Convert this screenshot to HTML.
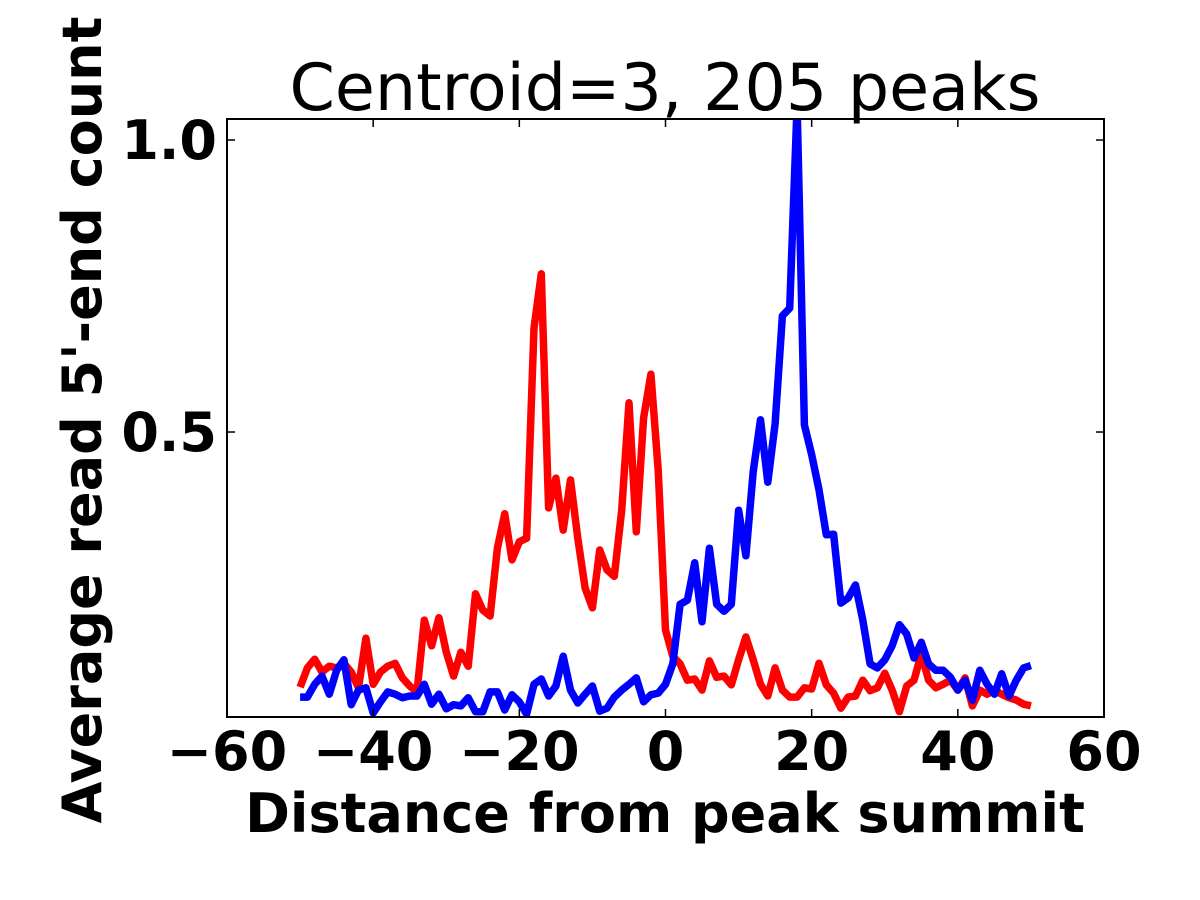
<!DOCTYPE html>
<html><head><meta charset="utf-8"><style>
html,body{margin:0;padding:0;background:#fff;}
svg{display:block;font-family:"DejaVu Sans","Liberation Sans",sans-serif;}
</style></head><body>
<svg id="chart" width="1200" height="900">
<defs><clipPath id="clip"><rect x="227" y="119" width="877" height="598"/></clipPath></defs>
<rect x="0" y="0" width="1200" height="900" fill="#fff"/>
<text x="665" y="110" text-anchor="middle" font-size="65">Centroid=3, 205 peaks</text>
<g id="series" clip-path="url(#clip)"></g>
<rect x="227" y="119" width="877" height="598" fill="none" stroke="#000" stroke-width="2"/>
<g id="ticks"></g>
<text x="665" y="832" text-anchor="middle" font-size="54" font-weight="bold">Distance from peak summit</text>
<text transform="translate(101,420) rotate(-90)" text-anchor="middle" font-size="54" font-weight="bold">Average read 5'-end count</text>
</svg>
<script>
const xTicks = [-60, -40, -20, 0, 20, 40, 60];
const xTickLabels = ["\u221260", "\u221240", "\u221220", "0", "20", "40", "60"];
const yTicks = [0.5, 1.0];
const yTickLabels = ["0.5", "1.0"];
const xStart = -50;
const redValues = [0.063,0.096,0.111,0.089,0.099,0.096,0.104,0.089,0.062,0.147,0.068,0.089,0.099,0.104,0.079,0.065,0.055,0.178,0.134,0.182,0.123,0.082,0.123,0.099,0.223,0.195,0.185,0.301,0.360,0.281,0.312,0.318,0.678,0.771,0.370,0.421,0.332,0.418,0.318,0.233,0.199,0.298,0.264,0.253,0.366,0.550,0.329,0.524,0.599,0.435,0.161,0.116,0.103,0.075,0.077,0.058,0.108,0.080,0.082,0.067,0.110,0.149,0.110,0.068,0.048,0.096,0.058,0.046,0.046,0.062,0.060,0.104,0.067,0.053,0.027,0.046,0.048,0.075,0.057,0.062,0.087,0.058,0.021,0.065,0.075,0.120,0.075,0.062,0.068,0.075,0.058,0.079,0.031,0.058,0.051,0.058,0.051,0.045,0.041,0.034,0.031];
const blueValues = [0.046,0.046,0.068,0.082,0.051,0.092,0.110,0.033,0.058,0.062,0.019,0.038,0.055,0.051,0.045,0.048,0.048,0.068,0.034,0.051,0.026,0.033,0.031,0.045,0.021,0.021,0.055,0.055,0.024,0.050,0.038,0.017,0.068,0.077,0.048,0.065,0.116,0.058,0.036,0.051,0.065,0.022,0.027,0.046,0.058,0.068,0.079,0.038,0.050,0.053,0.068,0.103,0.205,0.212,0.276,0.175,0.301,0.205,0.193,0.205,0.366,0.288,0.432,0.521,0.414,0.514,0.699,0.712,1.06,0.512,0.461,0.401,0.324,0.325,0.207,0.216,0.238,0.178,0.103,0.096,0.110,0.134,0.170,0.154,0.113,0.140,0.103,0.092,0.092,0.080,0.058,0.075,0.041,0.092,0.068,0.051,0.086,0.048,0.075,0.096,0.100];

const X0=227, X1=1104, Y0=119, Y1=717;
const xMin=-60, xMax=60, yMin=0.012, yMax=1.036;
const xs = v => X0 + (v - xMin) / (xMax - xMin) * (X1 - X0);
const ys = v => Y1 - (v - yMin) / (yMax - yMin) * (Y1 - Y0);
const NS = "http://www.w3.org/2000/svg";
const series = document.getElementById('series');
const ticks = document.getElementById('ticks');

function drawLine(vals, color, name) {
  const pts = vals.map((v, i) => xs(xStart + i).toFixed(1) + ',' + ys(v).toFixed(1)).join(' ');
  const pl = document.createElementNS(NS, 'polyline');
  pl.setAttribute('points', pts);
  pl.setAttribute('fill', 'none');
  pl.setAttribute('stroke', color);
  pl.setAttribute('stroke-width', '7.5');
  pl.setAttribute('stroke-linejoin', 'round');
  
  
  series.appendChild(pl);
}
drawLine(redValues, '#ff0000', 'red-series-line');
drawLine(blueValues, '#0000ff', 'blue-series-line');

xTicks.forEach((t, i) => {
  const x = xs(t);
  [[Y1, Y1 - 8], [Y0, Y0 + 8]].forEach(([a, b]) => {
    const l = document.createElementNS(NS, 'line');
    l.setAttribute('x1', x); l.setAttribute('x2', x);
    l.setAttribute('y1', a); l.setAttribute('y2', b);
    l.setAttribute('stroke', '#000'); l.setAttribute('stroke-width', '1.5');
    
    
    ticks.appendChild(l);
  });
  const tx = document.createElementNS(NS, 'text');
  tx.setAttribute('x', x); tx.setAttribute('y', 770);
  tx.setAttribute('text-anchor', 'middle');
  tx.setAttribute('font-size', '54'); tx.setAttribute('font-weight', 'bold');
  tx.textContent = xTickLabels[i];
  
  
  ticks.appendChild(tx);
});
yTicks.forEach((t, i) => {
  const y = ys(t);
  [[X0, X0 + 8], [X1, X1 - 8]].forEach(([a, b]) => {
    const l = document.createElementNS(NS, 'line');
    l.setAttribute('x1', a); l.setAttribute('x2', b);
    l.setAttribute('y1', y); l.setAttribute('y2', y);
    l.setAttribute('stroke', '#000'); l.setAttribute('stroke-width', '1.5');
    
    
    ticks.appendChild(l);
  });
  const tx = document.createElementNS(NS, 'text');
  tx.setAttribute('x', 217); tx.setAttribute('y', y + 19);
  tx.setAttribute('text-anchor', 'end');
  tx.setAttribute('font-size', '54'); tx.setAttribute('font-weight', 'bold');
  tx.textContent = yTickLabels[i];
  
  
  ticks.appendChild(tx);
});
</script>
</body></html>
